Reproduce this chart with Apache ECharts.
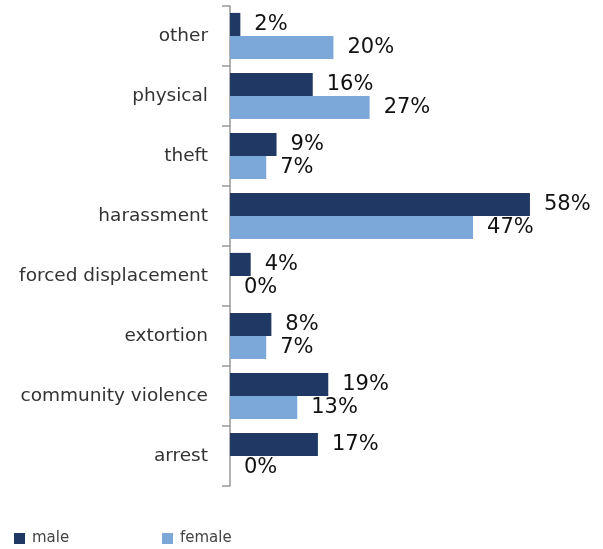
<!DOCTYPE html>
<html><head><meta charset="utf-8">
<script src="https://cdn.jsdelivr.net/npm/echarts@6/dist/echarts.min.js"></script>
<style>html,body{margin:0;padding:0;background:#fff}#c{width:603px;height:549px}</style>
</head><body><div id="c"></div>
<script>
const categories = ['other','physical','theft','harassment','forced displacement','extortion','community violence','arrest'];
const male = [2,16,9,58,4,8,19,17];
const female = [20,27,7,47,0,7,13,0];

const chart = echarts.init(document.getElementById('c'));
const labelStyle = {show:true, position:'right', distance:14, formatter:'{c}%', color:'#111', fontSize:21, fontFamily:'DejaVu Sans'};
const legText = {fontSize:15, color:'#444', fontFamily:'DejaVu Sans', padding:[0,0,0,2]};
chart.setOption({
  animation:false,
  grid:{left:230, top:6, height:480, width:362},
  legend:[
    {data:['male'], left:14, top:531, padding:0, itemWidth:11, itemHeight:11, icon:'rect', textStyle:legText},
    {data:['female'], left:162, top:531, padding:0, itemWidth:11, itemHeight:11, icon:'rect', textStyle:legText}
  ],
  xAxis:{type:'value', min:0, max:70, show:false},
  yAxis:{type:'category', data:categories, inverse:true,
    axisLine:{lineStyle:{color:'#999', width:1.5}},
    axisTick:{show:true, length:8, lineStyle:{color:'#999', width:1.5}},
    axisLabel:{margin:22, fontSize:18.5, color:'#333', fontFamily:'DejaVu Sans'}},
  series:[
    {name:'male', type:'bar', data:male, itemStyle:{color:'#1f3864'}, barGap:'0%', barCategoryGap:'23%', label:labelStyle},
    {name:'female', type:'bar', data:female, itemStyle:{color:'#7ba7d9'}, barGap:'0%', barCategoryGap:'23%', label:labelStyle}
  ]
});
</script></body></html>
